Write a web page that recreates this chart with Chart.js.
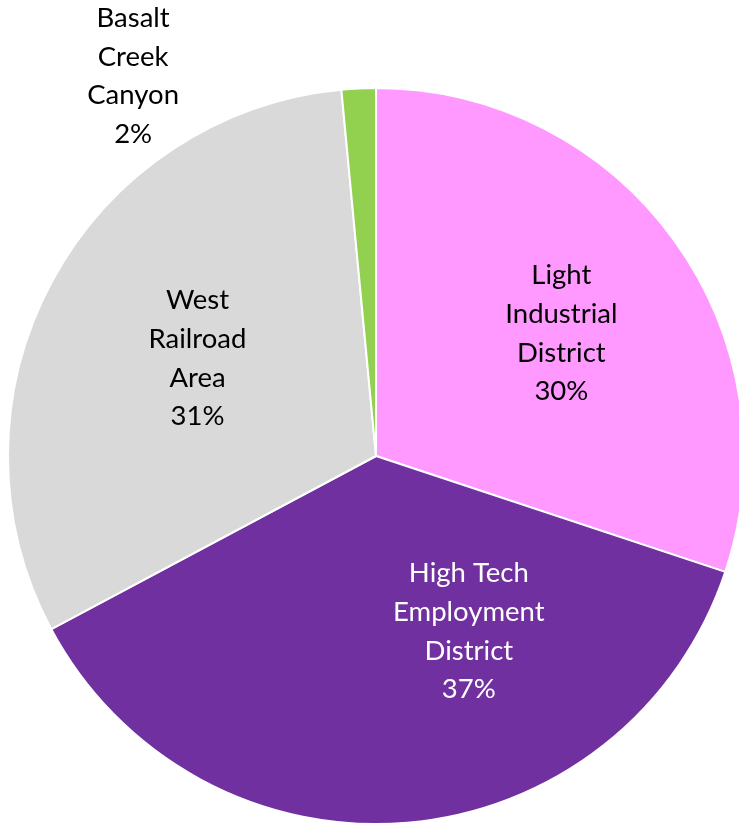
<!DOCTYPE html>
<html>
<head>
<meta charset="utf-8">
<script src="https://cdn.jsdelivr.net/npm/chart.js@4/dist/chart.umd.min.js"></script>
<style>
html,body{margin:0;padding:0;background:#fff;overflow:hidden;width:739px;height:825px;}
#wrap{position:absolute;left:0;top:0;width:752px;height:912px;}
</style>
</head>
<body>
<div id="wrap"><canvas id="c" width="752" height="912"></canvas></div>
<script>
const categories = ["Light Industrial District", "High Tech Employment District", "West Railroad Area", "Basalt Creek Canyon"];
const labelLines = [["Light", "Industrial", "District"], ["High Tech", "Employment", "District"], ["West", "Railroad", "Area"], ["Basalt", "Creek", "Canyon"]];
const values = [30.1, 37.1, 31.3, 1.5];
const percentLabels = ["30%", "37%", "31%", "2%"];

const colors = ["#FF99FF", "#7030A0", "#D9D9D9", "#92D050"];
const textColors = ["#000000", "#FFFFFF", "#000000", "#000000"];
// label anchor: [angle in degrees clockwise from top, distance as fraction of radius]
const labelAnchor = [[56.5, 0.604], [152.1, 0.539], [298.7, 0.553], [327.4, 1.225]];

const labelPlugin = {
  id: 'sliceLabels',
  afterDatasetsDraw(chart) {
    const ctx = chart.ctx;
    const meta = chart.getDatasetMeta(0);
    ctx.save();
    ctx.font = '27.5px Lato, "Open Sans", sans-serif';
    ctx.textAlign = 'center';
    ctx.textBaseline = 'middle';
    meta.data.forEach((arc, i) => {
      const p = arc.getProps(['x', 'y', 'outerRadius'], true);
      const a = labelAnchor[i][0] * Math.PI / 180;
      const d = labelAnchor[i][1] * p.outerRadius;
      const cx = p.x + Math.sin(a) * d;
      const cy = p.y - Math.cos(a) * d;
      const lines = labelLines[i].concat([percentLabels[i]]);
      const lh = 38.8;
      const y0 = cy - (lines.length - 1) * lh / 2;
      ctx.fillStyle = textColors[i];
      lines.forEach((t, k) => ctx.fillText(t, cx, y0 + k * lh));
    });
    ctx.restore();
  }
};

new Chart(document.getElementById('c'), {
  type: 'pie',
  data: {
    labels: categories,
    datasets: [{
      data: values,
      backgroundColor: colors,
      borderColor: '#FFFFFF',
      borderWidth: 2
    }]
  },
  options: {
    responsive: false,
    animation: false,
    layout: { padding: 7 },
    plugins: { legend: { display: false }, tooltip: { enabled: false } }
  },
  plugins: [labelPlugin]
});
</script>
</body>
</html>
